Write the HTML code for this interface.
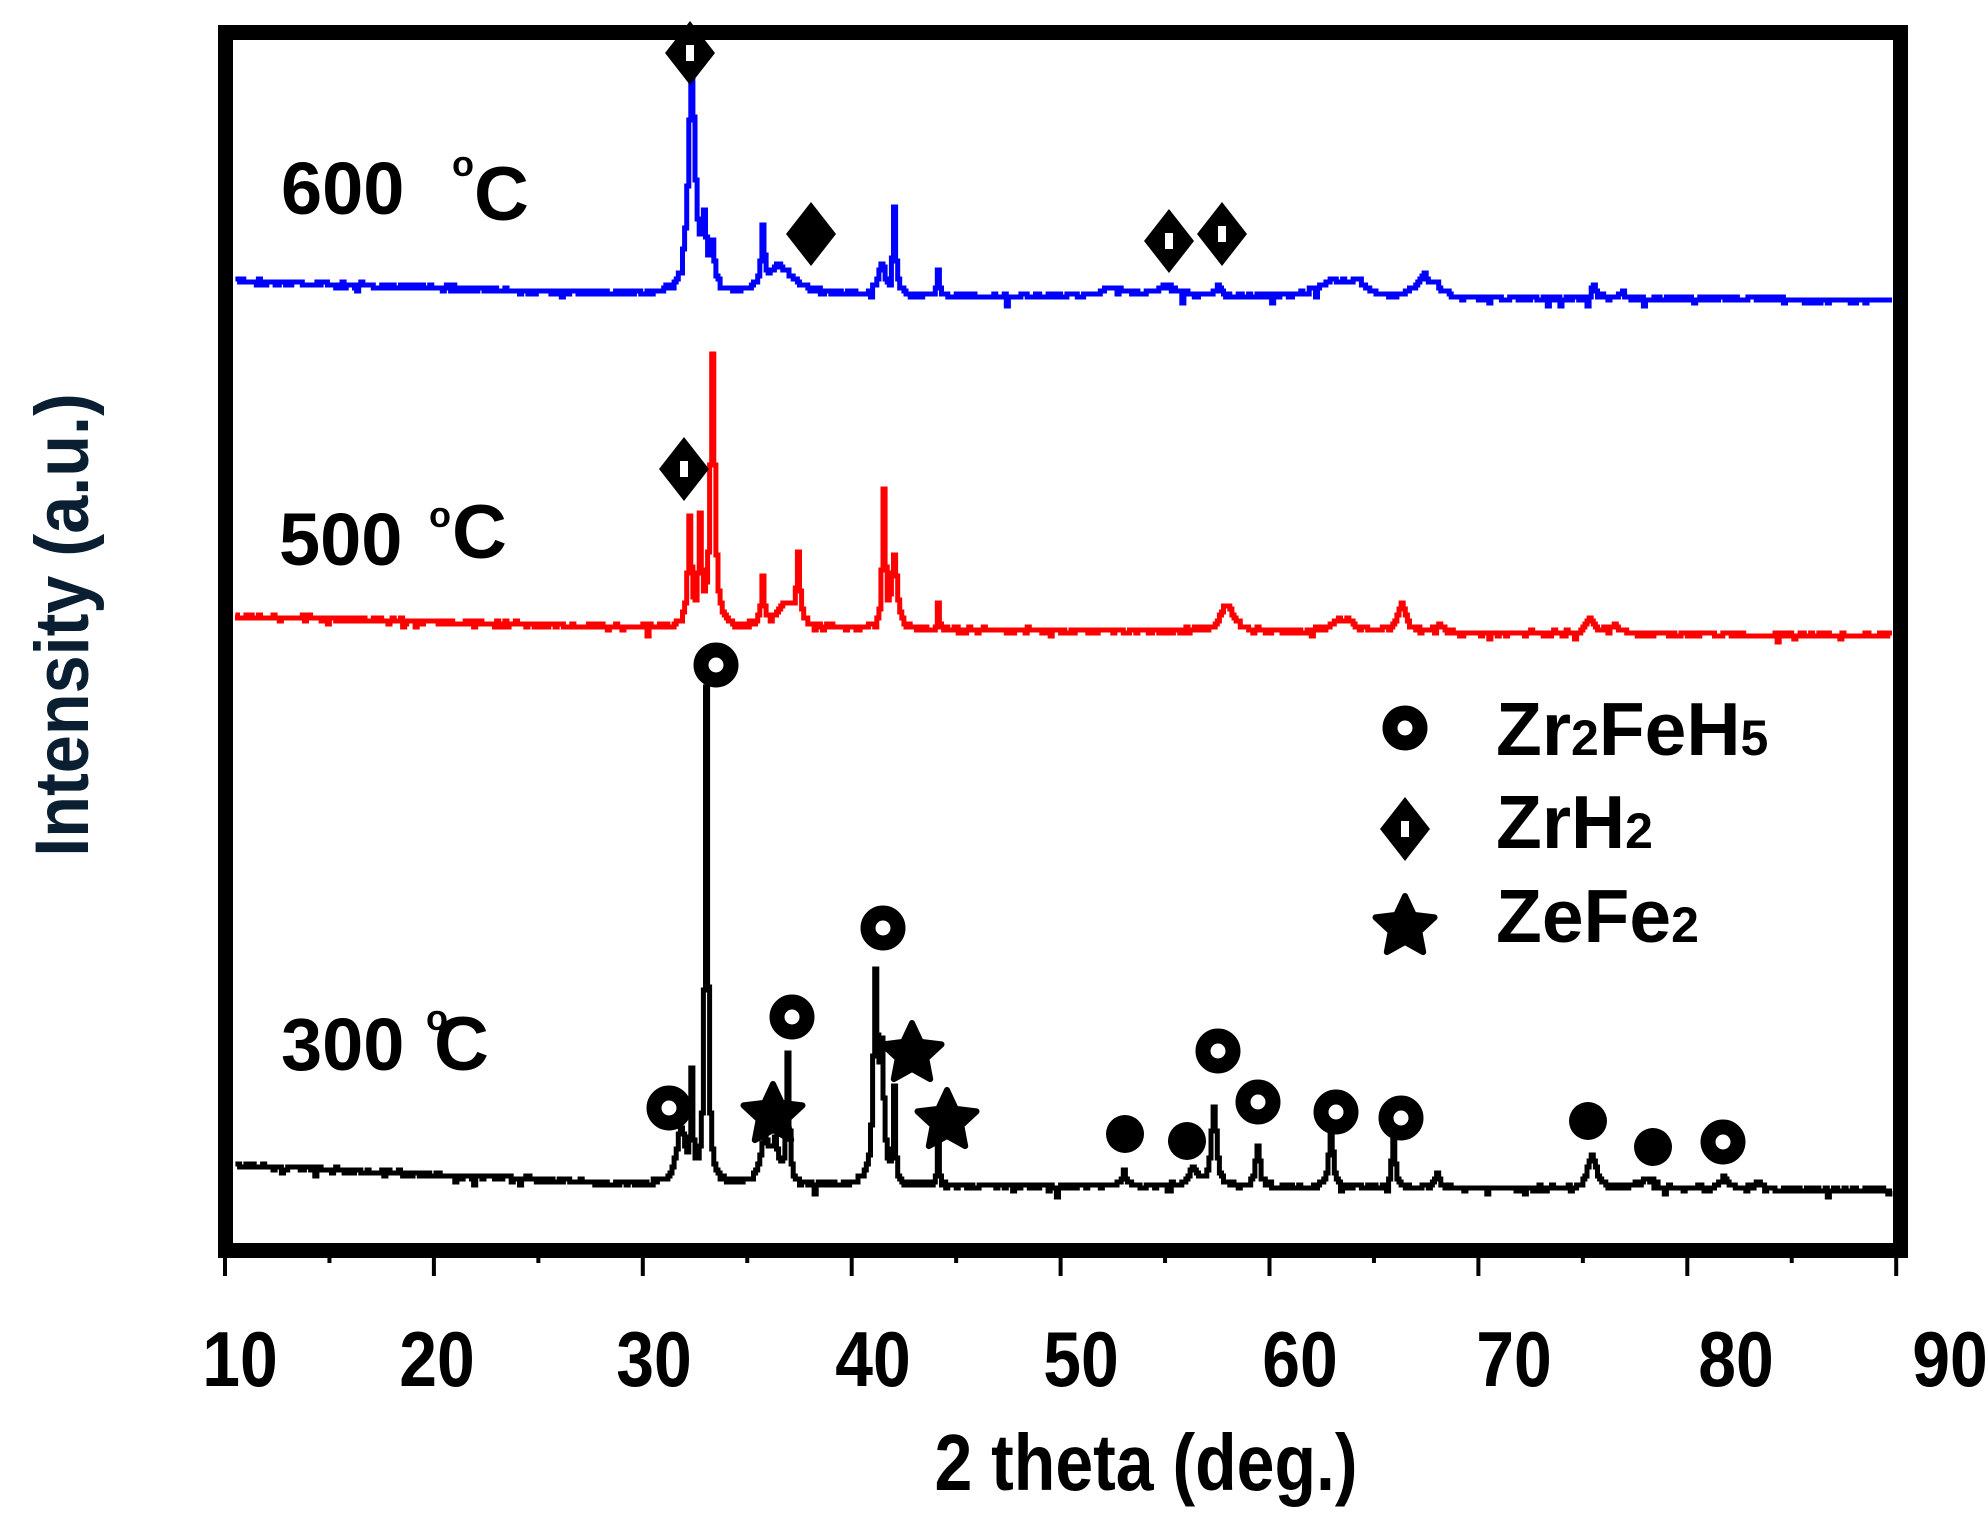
<!DOCTYPE html>
<html><head><meta charset="utf-8">
<style>
html,body{margin:0;padding:0;background:#fff;}
svg{display:block;}
text{font-family:"Liberation Sans",Arial,sans-serif;font-weight:bold;}
</style></head>
<body>
<svg id="s" width="1986" height="1523" viewBox="0 0 1986 1523" xmlns="http://www.w3.org/2000/svg">
<rect width="1986" height="1523" fill="#fff"/>
<g id="traces"></g>
<rect x="225.5" y="32.5" width="1675" height="1218" fill="none" stroke="#000" stroke-width="15"/>
<g id="ticks" stroke="#000" stroke-width="4"></g>
<g font-size="78" fill="#000" text-anchor="middle" id="ticklabels"></g>
<text x="1146" y="1490" font-size="80" text-anchor="middle" transform="translate(1146 0) scale(0.85 1) translate(-1146 0)">2 theta (deg.)</text>
<text transform="translate(88 625) rotate(-90) scale(0.9 1)" font-size="76" text-anchor="middle" fill="#0b1f33">Intensity (a.u.)</text>
<g font-size="74" fill="#000">
<text x="281" y="214">600</text><text x="452" y="176" font-size="36">o</text><text x="474" y="220" font-size="76">C</text>
<text x="279" y="565">500</text><text x="429" y="527" font-size="36">o</text><text x="452" y="558" font-size="76">C</text>
<text x="281" y="1070">300</text><text x="426" y="1030" font-size="36">o</text><text x="434" y="1070" font-size="76">C</text>
</g>
<g id="markers"></g>
<g font-size="75" fill="#000">
<text x="1496" y="755">Zr<tspan font-size="50">2</tspan>FeH<tspan font-size="50">5</tspan></text>
<text x="1496" y="848">ZrH<tspan font-size="50">2</tspan></text>
<text x="1496" y="942">ZeFe<tspan font-size="50">2</tspan></text>
</g>
</svg>
<script>
(function(){
var NS="http://www.w3.org/2000/svg";
function X(t){return 225+(t-10)*20.89;}
var seed=7;function rnd(){seed=(seed*16807)%2147483647;return seed/2147483647;}
function base(t,a,b,c){ if(t<30) return a+(b-a)*(t-10)/20; return b+(c-b)*(t-30)/60;}
function trace(a,b,c,peaks,color){
 var d="";var first=true;
 for(var t=10.5;t<=89.7;t+=0.1){
  var y=base(t,a,b,c);
  for(var i=0;i<peaks.length;i++){var p=peaks[i];var q=(t-p[0])/p[2];y-=p[1]/(1+q*q);}
  y+=Math.round((rnd()-0.5)*4);
  if(rnd()<0.04) y+= Math.round(rnd()*8);
  y=Math.round(y/3)*3;
  var x=X(t).toFixed(1);
  if(first){d="M"+x+" "+y;first=false;} else d+=" V"+y+" H"+x;
  d+=" H"+(X(t+0.1)).toFixed(1);
 }
 var pl=document.createElementNS(NS,"path");
 pl.setAttribute("d",d);pl.setAttribute("fill","none");
 pl.setAttribute("stroke",color);pl.setAttribute("stroke-width","5");
 document.getElementById("traces").appendChild(pl);
}
trace(281,295,300,[[32.3,215,0.2],[32.9,60,0.12],[33.3,40,0.12],[35.7,55,0.08],[36.5,28,0.8],[41.4,30,0.2],[42.0,85,0.08],[44.1,25,0.05],[52.5,8,0.8],[55,10,0.5],[57.5,12,0.12],[63,18,0.8],[64.2,15,0.3],[67.3,22,0.35],[68,10,0.3],[75.5,14,0.12],[76.8,6,0.2]],"#0000ff");
trace(616,628,636,[[33.3,270,0.12],[32.2,105,0.1],[32.7,100,0.08],[35.7,45,0.08],[37.4,65,0.09],[36.8,25,0.5],[41.5,135,0.08],[42.0,70,0.15],[44.1,25,0.05],[57.9,28,0.35],[63.5,12,0.6],[66.3,28,0.25],[68,14,0.12],[75.3,14,0.25],[76.5,10,0.3]],"#ff0000");
trace(1165,1185,1190,[[33.0,495,0.08],[31.8,55,0.25],[32.3,100,0.06],[36.9,125,0.08],[35.8,45,0.25],[36.3,35,0.2],[41.1,200,0.12],[41.4,120,0.12],[42.0,90,0.06],[44.1,45,0.05],[53,15,0.12],[56.3,18,0.25],[57.3,80,0.15],[59.4,40,0.12],[62.9,55,0.12],[65.9,50,0.1],[68,15,0.12],[75.4,32,0.25],[78,12,0.35],[81.7,12,0.25],[83.3,6,0.2]],"#000");
var tk=document.getElementById("ticks"),tl=document.getElementById("ticklabels");
for(var v=10;v<=90;v+=5){
 var l=document.createElementNS(NS,"line");var x=X(v);
 l.setAttribute("x1",x);l.setAttribute("x2",x);l.setAttribute("y1",1257);l.setAttribute("y2",v%10==0?1276:1263);
 tk.appendChild(l);
 if(v%10==0){var t=document.createElementNS(NS,"text");
  var lx=[240,437,654,873,1081,1300,1514,1736,1950][(v-10)/10];
  t.setAttribute("x",lx);t.setAttribute("y",1386);
  t.setAttribute("transform","translate("+lx+" 0) scale(0.87 1) translate("+(-lx)+" 0)");
  t.textContent=v;tl.appendChild(t);}
}
var m=document.getElementById("markers"),h="";
function ring(x,y){h+='<circle cx="'+x+'" cy="'+y+'" r="15" fill="none" stroke="#000" stroke-width="15"/>';}
function dot(x,y){h+='<circle cx="'+x+'" cy="'+y+'" r="19" fill="#000"/>';}
function dia(x,y,open){h+='<path d="M'+x+' '+(y-32)+' L'+(x+25)+' '+y+' L'+x+' '+(y+32)+' L'+(x-25)+' '+y+'Z" fill="#000"/>';
 if(open)h+='<rect x="'+(x-4)+'" y="'+(y-8)+'" width="8" height="16" fill="#fff"/>';}
function star(x,y){var p=[];for(var i=0;i<10;i++){var r=i%2?15:31,a=-Math.PI/2+i*Math.PI/5;p.push((x+r*Math.cos(a)).toFixed(1)+","+(y+r*Math.sin(a)).toFixed(1));}
 h+='<polygon points="'+p.join(" ")+'" fill="#000" stroke="#000" stroke-width="6" stroke-linejoin="round"/>';}
dia(690,53,1);dia(811,234,0);dia(1169,241,1);dia(1222,234,1);dia(684,469,1);
[[716,665],[669,1108],[792,1017],[883,928],[1218,1051],[1258,1102],[1336,1112],[1401,1118],[1723,1142]].forEach(function(p){ring(p[0],p[1]);});
[[1125,1134],[1187,1141],[1588,1121],[1653,1147]].forEach(function(p){dot(p[0],p[1]);});
star(773,1115);star(912,1054);star(947,1121);
ring(1405,728);dia(1405,829,1);star(1405,927);
m.innerHTML=h;
})();
</script>
</body></html>
